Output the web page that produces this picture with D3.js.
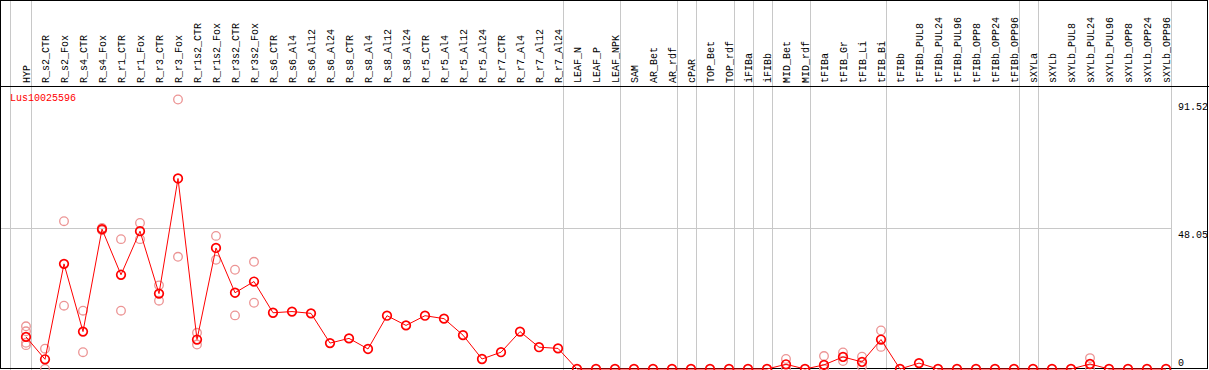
<!DOCTYPE html>
<html>
<head>
<meta charset="utf-8">
<script src="https://cdn.jsdelivr.net/npm/d3@7"></script>
<style>
  body { margin: 0; background: #fff; }
  svg text { font-family: "Liberation Mono", "DejaVu Sans Mono", monospace; font-size: 10px; }
</style>
</head>
<body>
<div id="plot"></div>
<script>
// gene name and sample columns
const geneName = "Lus10025596";

const samples = [
  "HYP", "R_s2_CTR", "R_s2_Fox", "R_s4_CTR", "R_s4_Fox", "R_r1_CTR", "R_r1_Fox",
  "R_r3_CTR", "R_r3_Fox", "R_r1s2_CTR", "R_r1s2_Fox", "R_r3s2_CTR", "R_r3s2_Fox",
  "R_s6_CTR", "R_s6_Al4", "R_s6_Al12", "R_s6_Al24", "R_s8_CTR", "R_s8_Al4",
  "R_s8_Al12", "R_s8_Al24", "R_r5_CTR", "R_r5_Al4", "R_r5_Al12", "R_r5_Al24",
  "R_r7_CTR", "R_r7_Al4", "R_r7_Al12", "R_r7_Al24", "LEAF_N", "LEAF_P", "LEAF_NPK",
  "SAM", "AR_Bet", "AR_rdf", "cPAR", "TOP_Bet", "TOP_rdf", "iFIBa", "iFIBb",
  "MID_Bet", "MID_rdf", "tFIBa", "tFIB_Gr", "tFIB_Li", "tFIB_Bi", "tFIBb",
  "tFIBb_PUL8", "tFIBb_PUL24", "tFIBb_PUL96", "tFIBb_OPP8", "tFIBb_OPP24", "tFIBb_OPP96",
  "sXYLa", "sXYLb", "sXYLb_PUL8", "sXYLb_PUL24", "sXYLb_PUL96", "sXYLb_OPP8",
  "sXYLb_OPP24", "sXYLb_OPP96"
];

// mean expression per sample
const means = [
  10.9, 3.3, 35.7, 12.7, 47.5, 32.0, 46.8, 25.6, 64.7, 10.0, 41.1, 25.9, 29.7,
  19.1, 19.5, 18.9, 8.8, 10.4, 6.8, 18.1, 14.8, 18.1, 17.1, 11.5, 3.4,
  5.7, 12.7, 7.4, 7.0, 0, 0, 0,
  0, 0, 0, 0, 0, 0, 0, 0,
  1.6, 0, 1.4, 4.1, 2.4, 10.0, 0,
  2.0, 0, 0, 0, 0, 0,
  0, 0, 0, 1.7, 0, 0, 0, 0
];

// replicate values where they are visible
const replicates = {
  "HYP": [14.5, 12.8, 8.9, 8.1],
  "R_s2_CTR": [6.9, 0],
  "R_s2_Fox": [50.2, 21.5],
  "R_s4_CTR": [19.8, 5.7],
  "R_s4_Fox": [47.9, 47.1],
  "R_r1_CTR": [44.1, 19.8],
  "R_r1_Fox": [49.6, 44.1],
  "R_r3_CTR": [28.4, 23.2],
  "R_r3_Fox": [91.52, 38.1],
  "R_r1s2_CTR": [12.3, 8.3],
  "R_r1s2_Fox": [45.2, 37.1],
  "R_r3s2_CTR": [33.7, 18.2],
  "R_r3s2_Fox": [36.4, 22.5],
  "MID_Bet": [3.4, 0],
  "tFIBa": [4.4, 0, 0],
  "tFIB_Gr": [5.6, 2.7],
  "tFIB_Li": [4.2, 0.8],
  "tFIB_Bi": [13.1, 7.5],
  "sXYLb_PUL24": [3.7, 0]
};

// y axis labels
const yTicks = [0, 48.05, 91.52];
const gridTicks = [48.05];

// group separators (after these columns); "" means the left edge line
const separatorsAfter = ["", "HYP", "R_r7_Al24", "LEAF_NPK", "AR_rdf", "cPAR", "TOP_rdf",
  "iFIBa", "iFIBb", "MID_rdf", "tFIB_Bi", "tFIBb_OPP96", "sXYLa", "sXYLb_OPP96"];

const width = 1209, height = 370;
const headerBottom = 86;
const plotRight = 1171;
const red = "#ff0000", pink = "#ec9494", gray = "#c8c8c8";

const svg = d3.select("#plot")
  .append("svg")
    .attr("width", width)
    .attr("height", height);

const x = d3.scaleBand()
  .domain(samples)
  .range([16.5, 16.5 + samples.length * 19])
  .paddingInner(0);

const cx = function(s) { return x(s) + x.bandwidth() / 2; };

const y = d3.scaleLinear()
  .domain([0, 91.52])
  .range([369, 99.5]);

// horizontal grid line
svg.selectAll(".hgrid")
  .data(gridTicks)
  .enter().append("line")
    .attr("x1", 0).attr("x2", plotRight)
    .attr("y1", function(d) { return Math.round(y(d)) + 0.5; })
    .attr("y2", function(d) { return Math.round(y(d)) + 0.5; })
    .attr("stroke", gray);

// vertical separators
svg.selectAll(".vsep")
  .data(separatorsAfter)
  .enter().append("line")
    .attr("x1", function(d) { return d === "" ? 10.5 : Math.round(cx(d) + 4.7) + 0.5; })
    .attr("x2", function(d) { return d === "" ? 10.5 : Math.round(cx(d) + 4.7) + 0.5; })
    .attr("y1", 0).attr("y2", height)
    .attr("stroke", gray);

// borders
svg.append("line").attr("x1", 0).attr("x2", width).attr("y1", headerBottom + 0.5).attr("y2", headerBottom + 0.5).attr("stroke", "#000");
svg.append("rect")
  .attr("x", 0.5).attr("y", 0.5)
  .attr("width", 1207).attr("height", 368)
  .attr("fill", "none").attr("stroke", "#000");

// column labels
svg.selectAll(".col-label")
  .data(samples)
  .enter().append("text")
    .attr("transform", function(d) { return "translate(" + (cx(d) + 4) + "," + 83 + ") rotate(-90)"; })
    .attr("fill", "#000")
    .text(function(d) { return d; });

// y labels on the right
svg.selectAll(".y-label")
  .data(yTicks)
  .enter().append("text")
    .attr("x", 1178)
    .attr("y", function(d) { return Math.min(y(d) + 10.5, 366); })
    .attr("fill", "#000")
    .text(function(d) { return d === 0 ? "0" : d3.format(".2f")(d); });

// gene name
svg.append("text")
  .attr("x", 10).attr("y", 101)
  .attr("fill", red)
  .text(geneName);

// replicate points
const repPoints = [];
Object.keys(replicates).forEach(function(s) {
  replicates[s].forEach(function(v) { repPoints.push({ s: s, v: v }); });
});

svg.selectAll(".rep")
  .data(repPoints)
  .enter().append("circle")
    .attr("cx", function(d) { return cx(d.s); })
    .attr("cy", function(d) { return y(d.v); })
    .attr("r", 4.3)
    .attr("fill", "none")
    .attr("stroke", pink)
    .attr("stroke-width", 1.3);

// mean line
const line = d3.line()
  .x(function(d, i) { return cx(samples[i]); })
  .y(function(d) { return y(d); });

svg.append("path")
  .datum(means)
  .attr("d", line)
  .attr("fill", "none")
  .attr("stroke", red)
  .attr("stroke-width", 1);

// mean markers
const marks = svg.selectAll(".mean")
  .data(means)
  .enter().append("g")
    .attr("transform", function(d, i) { return "translate(" + cx(samples[i]) + "," + y(d) + ")"; });

marks.append("circle")
  .attr("r", 4.3)
  .attr("fill", "none")
  .attr("stroke", red)
  .attr("stroke-width", 1.7);
</script>
</body>
</html>
